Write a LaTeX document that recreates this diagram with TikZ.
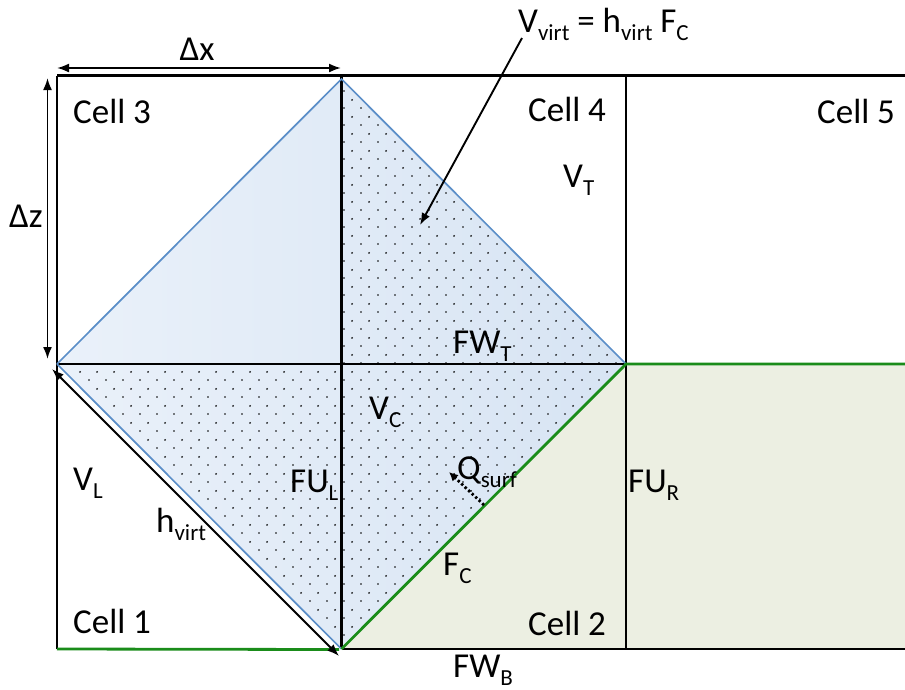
\documentclass[tikz,border=0pt]{standalone}
\usepackage{fontspec}
\setmainfont{Carlito}
\usetikzlibrary{arrows.meta,patterns.meta}
\definecolor{blfillA}{HTML}{EAF1FA}
\definecolor{blfillB}{HTML}{D7E4F3}
\definecolor{blline}{HTML}{5B8EC8}
\definecolor{grline}{HTML}{1A8C1A}
\definecolor{grfill}{HTML}{ECEFE2}
\tikzdeclarepattern{
  name=fdots,
  type=uncolored,
  bounding box={(0pt,0pt) and (17pt,17pt)},
  tile size={(17pt,17pt)},
  code={
    \fill (4.25pt,4.25pt) circle (1.0pt);
    \fill (12.75pt,12.75pt) circle (1.0pt);
  }
}
\newcommand{\sbs}[1]{\raisebox{-0.23em}{\fontsize{23}{23}\selectfont #1}}
\begin{document}
\begin{tikzpicture}[x=1pt,y=-1pt,
  lbl/.style={anchor=base west, inner sep=0pt, font=\fontsize{35}{40}\selectfont},
  gridline/.style={line width=2.2pt, black},
  blueedge/.style={line width=1.7pt, blline},
  greenedge/.style={line width=2.8pt, grline},
  dimarrow/.style={line width=1.9pt, black, {Latex[length=12pt,width=9pt]}-{Latex[length=12pt,width=9pt]}},
  ptrarrow/.style={line width=1.9pt, black, -{Latex[length=12pt,width=9pt]}},
  qarrow/.style={line width=2.8pt, black, dash pattern=on 2.4pt off 2.4pt, -{Latex[length=9pt,width=9pt]}}]
\useasboundingbox (0,0) rectangle (905,689);
% key points
\coordinate (L) at (57,364);
\coordinate (T) at (341.5,79);
\coordinate (R) at (626,364);
\coordinate (B) at (341.5,649);
\coordinate (Ctr) at (341.5,364);
% fills
\fill[grfill] (B) -- (R) -- (905,364) -- (905,649) -- cycle;
\shade[left color=blfillA, right color=blfillB] (T) -- (R) -- (B) -- (L) -- cycle;
\fill[pattern=fdots, pattern color=black] (T) -- (R) -- (B) -- (L) -- (Ctr) -- cycle;
% grid
\draw[gridline] (57,75.5) -- (905,75.5);
\draw[gridline] (57,75.5) -- (57,649);
\draw[gridline] (341.5,75.5) -- (341.5,649);
\draw[gridline] (626,75.5) -- (626,649);
\draw[gridline] (57,364) -- (626,364);
\draw[gridline] (341.5,649) -- (905,649);
% diamond edges
\draw[blueedge] (L) -- (T) -- (R);
\draw[blueedge] (L) -- (B);
\draw[greenedge] (B) -- (R) -- (905,364);
\draw[greenedge] (57,649) -- (339,649.5);
% arrow end points
\coordinate (dxa) at (57,68);
\coordinate (dxb) at (341,68);
\coordinate (dza) at (47.5,78);
\coordinate (dzb) at (47.5,359);
\coordinate (hva) at (52,369);
\coordinate (hvb) at (339,656);
\coordinate (vva) at (522,38);
\coordinate (vvb) at (420,225);
\coordinate (qa) at (484,505);
\coordinate (qb) at (449,472);
\draw[dimarrow] (dxa) -- (dxb);
\draw[dimarrow] (dza) -- (dzb);
\draw[dimarrow] (hva) -- (hvb);
\draw[ptrarrow] (vva) -- (vvb);
\draw[qarrow] (qa) -- (qb);
% labels
\node[lbl, anchor=base] (ldx) at (197,60) {Δx};
\node[lbl] (ldz) at (9,227) {Δz};
\node[lbl] (lvv) at (518,32) {V\sbs{virt} = h\sbs{virt} F\sbs{C}};
\node[lbl] (c3) at (73,123) {Cell 3};
\node[lbl] (c4) at (528,121) {Cell 4};
\node[lbl] (c5) at (817,123) {Cell 5};
\node[lbl] (lvt) at (563,187) {V\sbs{T}};
\node[lbl] (lfwt) at (453,353) {FW\sbs{T}};
\node[lbl] (lvc) at (369,419) {V\sbs{C}};
\node[lbl] (lful) at (290,492) {FU\sbs{L}};
\node[lbl] (lq) at (457,479) {Q\sbs{surf}};
\node[lbl] (lfc) at (443,575) {F\sbs{C}};
\node[lbl] (c2) at (528,635) {Cell 2};
\node[lbl] (lfwb) at (453,677) {FW\sbs{B}};
\node[lbl] (lfur) at (628,492) {FU\sbs{R}};
\node[lbl] (lvl) at (73,490) {V\sbs{L}};
\node[lbl] (lhv) at (156,532) {h\sbs{virt}};
\node[lbl] (c1) at (73,633) {Cell 1};
\end{tikzpicture}
\end{document}
